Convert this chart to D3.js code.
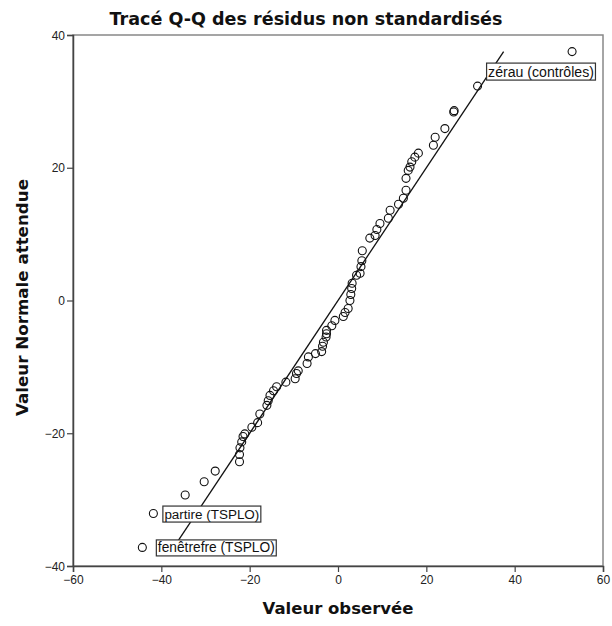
<!DOCTYPE html>
<html><head><meta charset="utf-8">
<script src="https://cdn.jsdelivr.net/npm/d3@7"></script>
<style>body{margin:0;background:#fff}svg{display:block}</style>
</head><body>
<script>
// Observed residual values (x) and expected normal values (y)
const observed = [-44.3,-41.8,-34.6,-30.3,-27.8,-22.3,-22.3,-22.2,-21.8,-21.5,-21.1,-19.5,-18.2,-17.7,-16.1,-15.8,-15.4,-14.6,-13.9,-11.8,-9.7,-9.4,-9.0,-7.0,-6.7,-5.1,-3.7,-3.5,-3.3,-2.7,-2.6,-2.6,-1.4,-0.7,1.2,1.6,2.3,2.7,2.9,3.1,3.2,4.2,5.0,5.2,5.4,5.5,7.2,8.4,8.8,9.5,11.4,11.8,13.7,14.8,15.4,15.4,15.9,16.3,16.7,17.4,18.2,21.6,22.0,24.2,26.2,26.3,31.6,53.0];
const expected = [-37.2,-32.1,-29.3,-27.3,-25.7,-24.3,-23.2,-22.2,-21.3,-20.5,-20.1,-19.1,-18.4,-17.1,-15.8,-15.1,-14.3,-13.6,-13.0,-12.3,-11.8,-11.0,-10.6,-9.5,-8.5,-8.0,-7.7,-6.9,-6.3,-5.5,-5.0,-4.5,-3.8,-3.0,-2.4,-1.8,-1.2,0.0,0.9,1.8,2.6,3.8,4.1,5.1,6.0,7.5,9.4,9.8,10.7,11.6,12.4,13.6,14.5,15.4,16.6,18.4,19.6,20.1,20.9,21.6,22.2,23.4,24.6,25.9,28.4,28.6,32.3,37.5];
const refLine = [-37.2, 37.5];
const xTicks = [-60,-40,-20,0,20,40,60];
const yTicks = [-40,-20,0,20,40];
const labelTexts = ["zérau (contrôles)", "partire (TSPLO)", "fenêtrefre (TSPLO)"];
const labelObs = [53.0, -41.8, -44.3];
const labelExp = [37.5, -32.1, -37.2];
const title = "Tracé Q-Q des résidus non standardisés";
const xTitle = "Valeur observée";
const yTitle = "Valeur Normale attendue";

// layout (pixel offsets of the label boxes relative to their points)
const labelLayout = [{dx:-84, dy:25, w:106}, {dx:11, dy:5, w:95}, {dx:15.5, dy:5, w:117}];

const W = 612, H = 626;
const L = 73, R = 603, T = 35, B = 566;
const svg = d3.select("body").append("svg").attr("width", W).attr("height", H);
const font = "'Liberation Sans', Arial, sans-serif";
const tfont = "'DejaVu Sans', sans-serif";
const x = d3.scaleLinear().domain([-60, 60]).range([L, R]);
const y = d3.scaleLinear().domain([-40, 40]).range([B, T]);

function fit(t, target, base) {
  const w = t.node().getComputedTextLength();
  t.attr("font-size", base * target / w);
}

// frame
svg.append("rect").attr("x", L).attr("y", T).attr("width", R - L).attr("height", B - T)
  .attr("fill", "none").attr("stroke", "#888").attr("stroke-width", 1.5);

// axes
const xAxis = svg.append("g").attr("transform", `translate(0,${B})`)
  .call(d3.axisBottom(x).tickValues(xTicks).tickSize(6).tickPadding(3).tickFormat(d3.format("d")));
const yAxis = svg.append("g").attr("transform", `translate(${L},0)`)
  .call(d3.axisLeft(y).tickValues(yTicks).tickSize(6).tickPadding(2).tickFormat(d3.format("d")));
[xAxis, yAxis].forEach(g => {
  g.select(".domain").attr("stroke", "#444").attr("stroke-width", 1.5);
  g.selectAll(".tick line").attr("stroke", "#444").attr("stroke-width", 1.2);
  g.selectAll("text").attr("font-family", font).attr("font-size", 12).attr("fill", "#222");
});
yAxis.selectAll(".tick text").attr("dy", "0.35em");

// reference line
svg.append("line")
  .attr("x1", x(refLine[0])).attr("y1", y(refLine[0]))
  .attr("x2", x(refLine[1])).attr("y2", y(refLine[1]))
  .attr("stroke", "#111").attr("stroke-width", 1.3);

// points
const pts = observed.map((v, i) => ({x: v, y: expected[i]}));
svg.append("g").selectAll("circle").data(pts).join("circle")
  .attr("cx", d => x(d.x)).attr("cy", d => y(d.y)).attr("r", 4)
  .attr("fill", "none").attr("stroke", "#111").attr("stroke-width", 1.1);

// point labels
labelTexts.forEach((txt, i) => {
  const lay = labelLayout[i];
  const g = svg.append("g");
  const t = g.append("text").text(txt).attr("font-family", font).attr("font-size", 13).attr("fill", "#111");
  fit(t, lay.w, 13);
  t.attr("x", x(labelObs[i]) + lay.dx).attr("y", y(labelExp[i]) + lay.dy);
  const b = t.node().getBBox();
  g.insert("rect", "text").attr("x", b.x - 1.5).attr("y", b.y - 0.5).attr("width", b.width + 3).attr("height", b.height + 1)
    .attr("fill", "#fff").attr("stroke", "#333").attr("stroke-width", 1.2);
});

// titles
const tt = svg.append("text").text(title).attr("x", W / 2).attr("y", 25).attr("text-anchor", "middle")
  .attr("font-family", tfont).attr("font-weight", "bold").attr("font-size", 16).attr("fill", "#111");
fit(tt, 393, 16);
const xt = svg.append("text").text(xTitle).attr("x", (L + R) / 2).attr("y", 614).attr("text-anchor", "middle")
  .attr("font-family", tfont).attr("font-weight", "bold").attr("font-size", 15).attr("fill", "#111");
fit(xt, 151, 15);
const yt = svg.append("text").text(yTitle).attr("transform", `translate(28,${(T + B) / 2 - 3}) rotate(-90)`).attr("text-anchor", "middle")
  .attr("font-family", tfont).attr("font-weight", "bold").attr("font-size", 15).attr("fill", "#111");
fit(yt, 237, 15);
</script>
</body></html>
